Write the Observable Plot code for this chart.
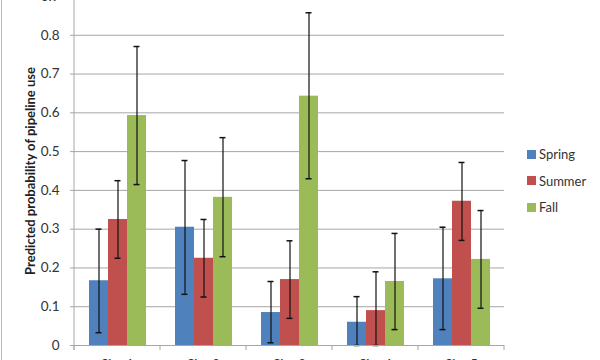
<!DOCTYPE html>
<html>
<head>
<meta charset="utf-8">
<script src="https://cdn.jsdelivr.net/npm/d3@7"></script>
<script src="https://cdn.jsdelivr.net/npm/@observablehq/plot@0.6"></script>
<style>
  html, body { margin: 0; padding: 0; background: #fff; }
  #wrap { position: relative; width: 600px; height: 360px; overflow: hidden; background: #fff; font-family: Lato, "Open Sans", sans-serif; }
  #chart { position: absolute; left: 0; top: -14px; }
  #border { position: absolute; left: 1px; top: 0; width: 1px; height: 360px; background: #bdbdbd; }
  #legend { position: absolute; left: 527px; top: 146px; display: flex; flex-direction: column; gap: 10.5px; font-size: 13px; color: #333; }
  .item { display: flex; align-items: center; height: 16px; }
  .sw { width: 9px; height: 9px; margin-right: 3px; }
</style>
</head>
<body>
<div id="wrap">
  <div id="chart"></div>
  <div id="border"></div>
  <div id="legend"></div>
</div>
<script>
const categories = ["Site 1", "Site 2", "Site 3", "Site 4", "Site 5"];
const seasons = ["Spring", "Summer", "Fall"];
const colors = ["#4F81BD", "#C0504D", "#9BBB59"];

const springValue = [0.167, 0.305, 0.085, 0.060, 0.172];
const springLow   = [0.033, 0.132, 0.007, 0.000, 0.041];
const springHigh  = [0.300, 0.477, 0.165, 0.126, 0.305];

const summerValue = [0.325, 0.225, 0.170, 0.090, 0.372];
const summerLow   = [0.225, 0.125, 0.070, 0.000, 0.271];
const summerHigh  = [0.425, 0.325, 0.270, 0.190, 0.472];

const fallValue = [0.593, 0.382, 0.643, 0.165, 0.222];
const fallLow   = [0.415, 0.229, 0.430, 0.041, 0.096];
const fallHigh  = [0.771, 0.536, 0.858, 0.289, 0.348];

const yTicks = [0, 0.1, 0.2, 0.3, 0.4, 0.5, 0.6, 0.7, 0.8, 0.9];

const values = [springValue, summerValue, fallValue];
const lows = [springLow, summerLow, fallLow];
const highs = [springHigh, summerHigh, fallHigh];

const rows = categories.flatMap((c, i) => seasons.map((s, j) => ({
  category: c, season: s, value: values[j][i], lo: lows[j][i], hi: highs[j][i]
})));

const fmt = d => d === 0 ? "0" : d.toFixed(1);

const plot = Plot.plot({
  width: 510,
  height: 389,
  marginLeft: 73,
  marginRight: 6,
  marginTop: 10,
  marginBottom: 30,
  style: { fontFamily: "Lato, 'Open Sans', sans-serif", fontSize: "13px", color: "#333", background: "transparent" },
  fx: { domain: categories, padding: 0, label: null, axis: null },
  x: { domain: seasons, paddingInner: 0, paddingOuter: 0.763, axis: null },
  y: { domain: [0, 0.9], axis: null },
  color: { domain: seasons, range: colors },
  marks: [
    Plot.gridY(yTicks, { stroke: "#a6a6a6", strokeOpacity: 1 }),
    Plot.axisY(yTicks, {
      anchor: "left", tickSize: 4, tickPadding: 11, tickFormat: fmt,
      stroke: "#a6a6a6", fill: "#333", fontSize: 13.5,
      label: "Predicted probability of pipeline use", labelAnchor: "center", labelOffset: 49, labelArrow: "none"
    }),
    Plot.axisFx({ anchor: "bottom", tickSize: 0, tickPadding: 14, fontSize: 13, fill: "#333", label: null }),
    Plot.barY(rows, { fx: "category", x: "season", y: "value", fill: "season" }),
    Plot.ruleX(rows, { fx: "category", x: "season", y1: "lo", y2: "hi", stroke: "#111", strokeWidth: 1.2 }),
    Plot.tickY(rows, { fx: "category", x: "season", y: "lo", insetLeft: 6.5, insetRight: 6.5, stroke: "#111", strokeWidth: 1.5 }),
    Plot.tickY(rows, { fx: "category", x: "season", y: "hi", insetLeft: 6.5, insetRight: 6.5, stroke: "#111", strokeWidth: 1.5 }),
    Plot.ruleY([0], { stroke: "#a6a6a6" })
  ]
});

document.getElementById("chart").appendChild(plot);

// style y axis label
const svg = d3.select(plot);
svg.selectAll("[aria-label='y-axis label'] text")
  .attr("font-weight", "bold").attr("font-size", 13).attr("fill", "#222");

// axis line and group-boundary ticks from the library's scales
const fx = plot.scale("fx");
const y = plot.scale("y");
const bw = fx.bandwidth;
const edges = categories.map(c => fx.apply(c)).concat([fx.apply(categories[categories.length - 1]) + bw]);
const y0 = y.apply(0), yTop = y.apply(0.9);
const g = svg.append("g").attr("stroke", "#a6a6a6");
g.append("line").attr("x1", edges[0]).attr("x2", edges[0]).attr("y1", yTop).attr("y2", y0 + 5);
edges.forEach(e => g.append("line").attr("x1", e).attr("x2", e).attr("y1", y0).attr("y2", y0 + 5));

// legend
const legend = d3.select("#legend");
seasons.forEach((s, i) => {
  const it = legend.append("div").attr("class", "item");
  it.append("div").attr("class", "sw").style("background", colors[i]);
  it.append("span").text(s);
});
</script>
</body>
</html>
